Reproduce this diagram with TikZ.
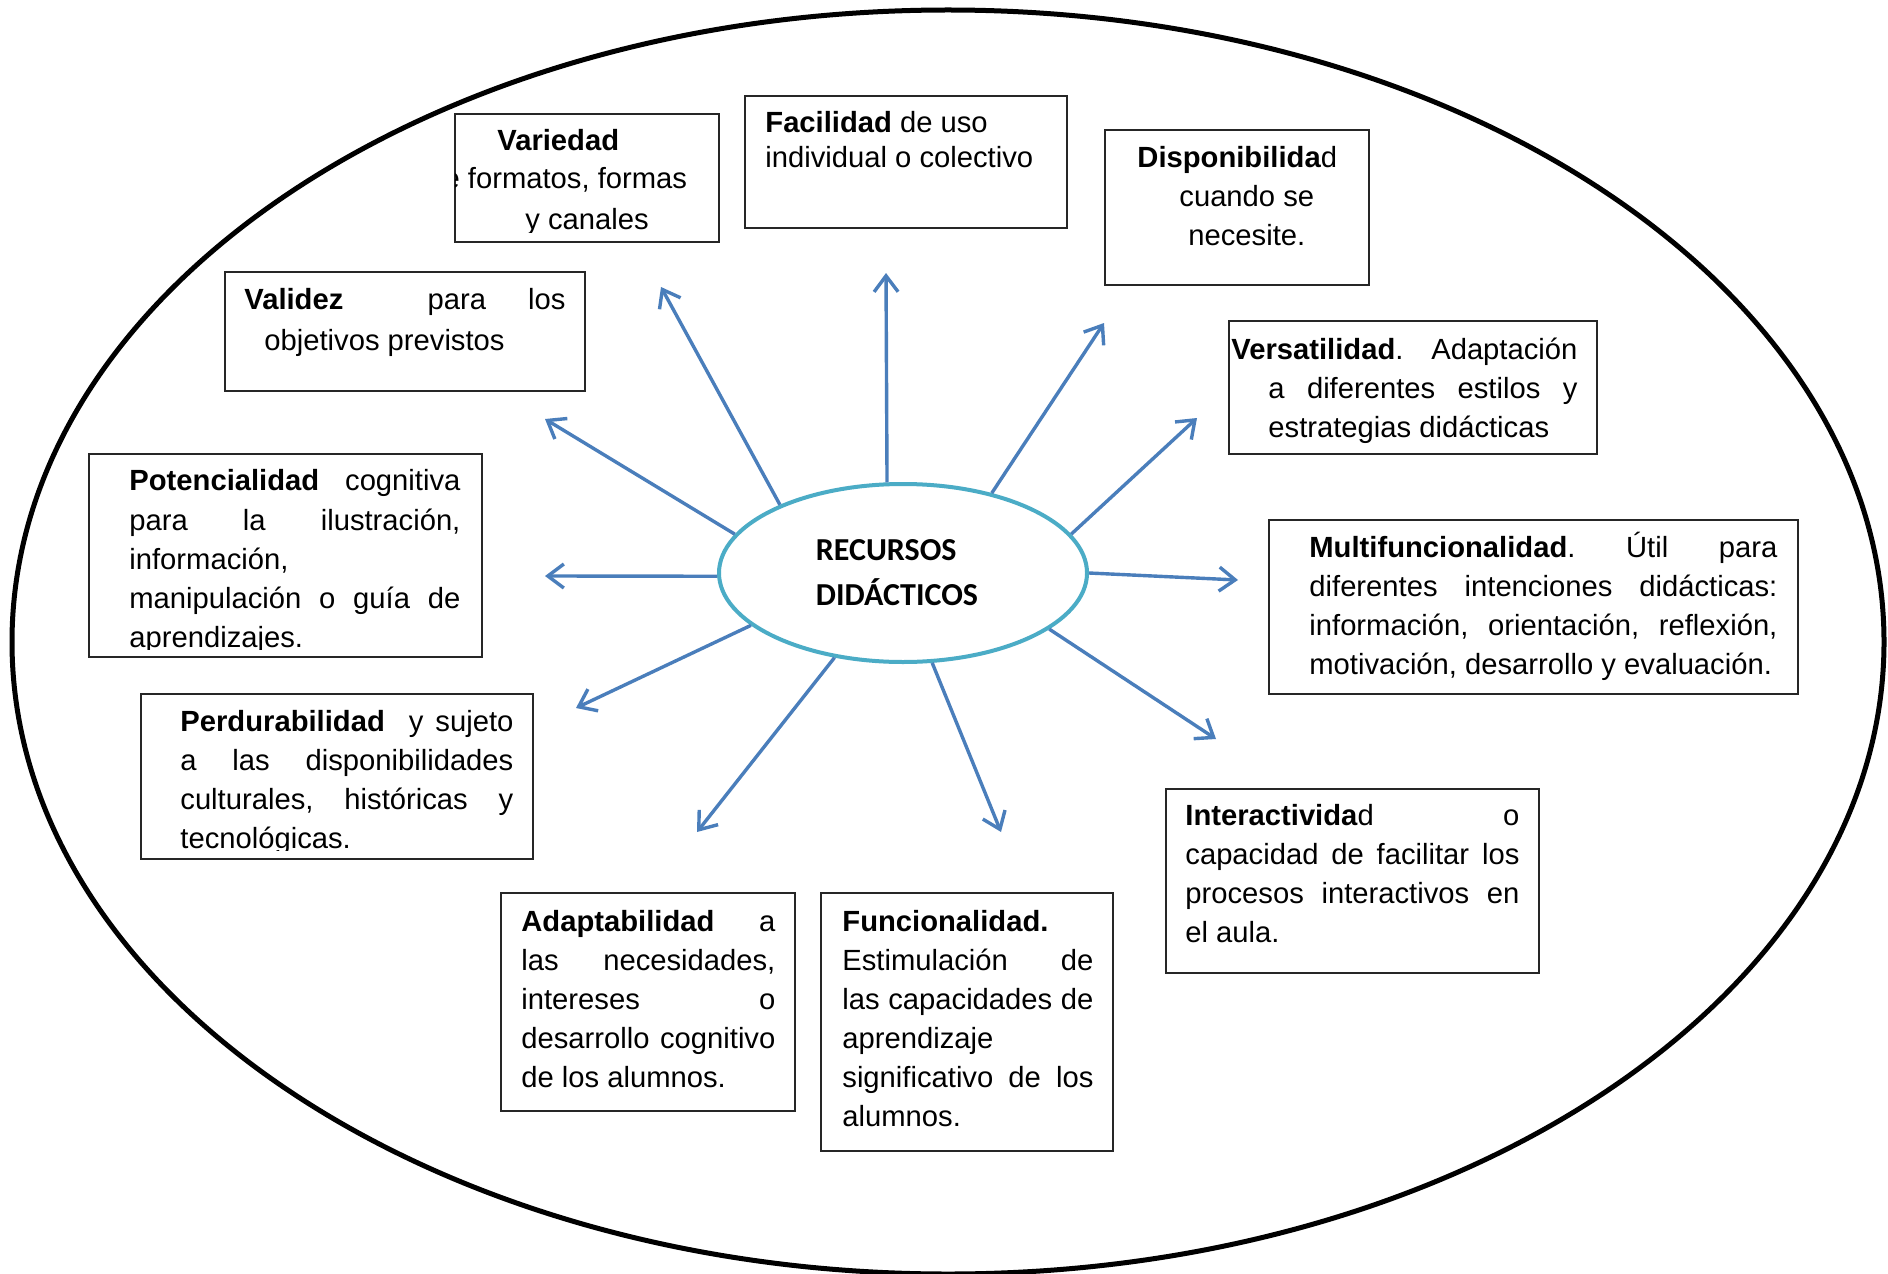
\documentclass[tikz,border=0pt]{standalone}
\usepackage{fontspec}
\setmainfont{Liberation Sans}
\newfontfamily\calib{Carlito}
\usetikzlibrary{arrows.meta,shapes.geometric}
\definecolor{arrowblue}{RGB}{74,126,187}
\definecolor{tealc}{RGB}{75,172,198}
\begin{document}
\begin{tikzpicture}[x=0.5pt,y=-0.5pt,
  box/.style={draw=black!85, line width=0.9pt, rectangle, inner sep=0pt},
  tl/.style={anchor=base west, inner sep=0pt, font=\fontsize{14.6pt}{19.5pt}\selectfont},
  arr/.style={draw=arrowblue, line width=1.7pt, -{Straight Barb[length=8pt,width=12pt]}},
  centre/.style={draw=tealc, line width=2pt, ellipse, fill=white, inner sep=0pt,
    minimum width=184pt, minimum height=89pt, align=left,
    font=\calib\bfseries\fontsize{16pt}{22.5pt}\selectfont},
  outer/.style={draw=black, line width=2.5pt, ellipse, inner sep=0pt,
    minimum width=936pt, minimum height=632pt}
]
\useasboundingbox (0,0) rectangle (1888,1273);
\fill[white] (0,0) rectangle (1888,1273);

\node[outer] (big) at (948,642) {};

% boxes
\node[box, minimum width=132pt, minimum height=64pt] (bvar) at (587,178) {};
\node[box, minimum width=161pt, minimum height=66pt] (bfac) at (906,162) {};
\node[box, minimum width=132pt, minimum height=77.5pt] (bdis) at (1237,207.5) {};
\node[box, minimum width=180pt, minimum height=59.5pt] (bval) at (405,331.5) {};
\node[box, minimum width=184pt, minimum height=66.5pt] (bver) at (1413,387.5) {};
\node[box, minimum width=196.5pt, minimum height=101.5pt] (bpot) at (285.5,555.5) {};
\node[box, minimum width=264.5pt, minimum height=87pt] (bmul) at (1533.5,607) {};
\node[box, minimum width=196pt, minimum height=82.5pt] (bper) at (337,776.5) {};
\node[box, minimum width=186.5pt, minimum height=92pt] (bint) at (1352.5,881) {};
\node[box, minimum width=147pt, minimum height=109pt] (bada) at (648,1002) {};
\node[box, minimum width=146pt, minimum height=129pt] (bfun) at (967,1022) {};

% Variedad
\begin{scope}
\clip (455,114) rectangle (719,233);
\node[tl] (var1) at (497,151) {\textbf{Variedad}};
\node[tl] (var2) at (427,189) {de formatos, formas};
\node[tl] (var3) at (525,229) {y canales};
\end{scope}

% Facilidad
\node[tl] (fac1) at (765,133) {\textbf{Facilidad} de uso};
\node[tl] (fac2) at (765,168) {individual o colectivo};

% Disponibilidad
\node[tl] (dis1) at (1137,168) {\textbf{Disponibilida}d};
\node[tl] (dis2) at (1179,206) {cuando se};
\node[tl] (dis3) at (1188,245) {necesite.};

% Validez
\node[tl] (val1) at (244,309) {\hbox to 160.5pt{\textbf{Validez}\hfill\hfill para\hfill los}};
\node[tl] (val2) at (264,350) {objetivos previstos};

% Versatilidad
\node[tl] (ver1) at (1231,359) {\hbox to 173pt{\textbf{Versatilidad}.\hfill Adaptación}};
\node[tl] (ver2) at (1268,398) {\hbox to 154.5pt{a\hfill diferentes\hfill estilos\hfill y}};
\node[tl] (ver3) at (1268,437) {estrategias didácticas};

% Potencialidad
\begin{scope}
\clip (89,454) rectangle (482,649);
\node[tl] (pot1) at (129,490) {\hbox to 165.5pt{\textbf{Potencialidad}\hfill cognitiva}};
\node[tl] (pot2) at (129,530) {\hbox to 165.5pt{para\hfill la\hfill ilustración,}};
\node[tl] (pot3) at (129,569) {información,};
\node[tl] (pot4) at (129,608) {\hbox to 165.5pt{manipulación\hfill o\hfill guía\hfill de}};
\node[tl] (pot5) at (129,647) {aprendizajes.};
\end{scope}

% Multifuncionalidad
\node[tl] (mul1) at (1309,557) {\hbox to 234pt{\textbf{Multifuncionalidad}.\hfill Útil\hfill para}};
\node[tl] (mul2) at (1309,596) {\hbox to 234pt{diferentes\hfill intenciones\hfill didácticas:}};
\node[tl] (mul3) at (1309,635) {\hbox to 234pt{información,\hfill orientación,\hfill reflexión,}};
\node[tl] (mul4) at (1309,674) {motivación, desarrollo y evaluación.};

% Perdurabilidad
\begin{scope}
\clip (141,694) rectangle (533,850);
\node[tl] (per1) at (180,731) {\hbox to 166.5pt{\textbf{Perdurabilidad}\hfill\hfill y\hfill sujeto}};
\node[tl] (per2) at (180,770) {\hbox to 166.5pt{a\hfill las\hfill disponibilidades}};
\node[tl] (per3) at (180,809) {\hbox to 166.5pt{culturales,\hfill históricas\hfill y}};
\node[tl] (per4) at (180,848) {tecnológicas.};
\end{scope}

% Interactividad
\node[tl] (int1) at (1185,825) {\hbox to 167pt{\textbf{Interactivida}d\hfill o}};
\node[tl] (int2) at (1185,864) {\hbox to 167pt{capacidad\hfill de\hfill facilitar\hfill los}};
\node[tl] (int3) at (1185,903) {\hbox to 167pt{procesos\hfill interactivos\hfill en}};
\node[tl] (int4) at (1185,942) {el aula.};

% Adaptabilidad
\node[tl] (ada1) at (521,931) {\hbox to 127pt{\textbf{Adaptabilidad}\hfill a}};
\node[tl] (ada2) at (521,970) {\hbox to 127pt{las\hfill necesidades,}};
\node[tl] (ada3) at (521,1009) {\hbox to 127pt{intereses\hfill o}};
\node[tl] (ada4) at (521,1048) {\hbox to 127pt{desarrollo\hfill cognitivo}};
\node[tl] (ada5) at (521,1087) {de los alumnos.};

% Funcionalidad
\node[tl] (fun1) at (842,931) {\textbf{Funcionalidad.}};
\node[tl] (fun2) at (842,970) {\hbox to 125.5pt{Estimulación\hfill de}};
\node[tl] (fun3) at (842,1009) {\hbox to 125.5pt{las\hfill capacidades\hfill de}};
\node[tl] (fun4) at (842,1048) {aprendizaje};
\node[tl] (fun5) at (842,1087) {\hbox to 125.5pt{significativo\hfill de\hfill los}};
\node[tl] (fun6) at (842,1126) {alumnos.};

% centre
\node[centre] (c) at (903,573) {\hspace*{-6pt}RECURSOS\\\hspace*{-6pt}DIDÁCTICOS};

% arrow tips
\coordinate (ta) at (661,287);
\coordinate (tb) at (886,273);
\coordinate (tc) at (1104,323);
\coordinate (td) at (1197,418);
\coordinate (te) at (1238,580);
\coordinate (tf) at (1216,739);
\coordinate (tg) at (1001,832);
\coordinate (th) at (697,832);
\coordinate (ti) at (576,708);
\coordinate (tj) at (545,576);
\coordinate (tk) at (545,419);

\draw[arr] (c.151.8) -- (ta);
\draw[arr] (c.100.8) -- (tb);
\draw[arr] (c.42.2) -- (tc);
\draw[arr] (c.13.5) -- (td);
\draw[arr] (c.-0.9) -- (te);
\draw[arr] (c.-21.8) -- (tf);
\draw[arr] (c.-72.5) -- (tg);
\draw[arr] (c.231.9) -- (th);
\draw[arr] (c.199.5) -- (ti);
\draw[arr] (c.181.9) -- (tj);
\draw[arr] (c.167.5) -- (tk);
\end{tikzpicture}
\end{document}
